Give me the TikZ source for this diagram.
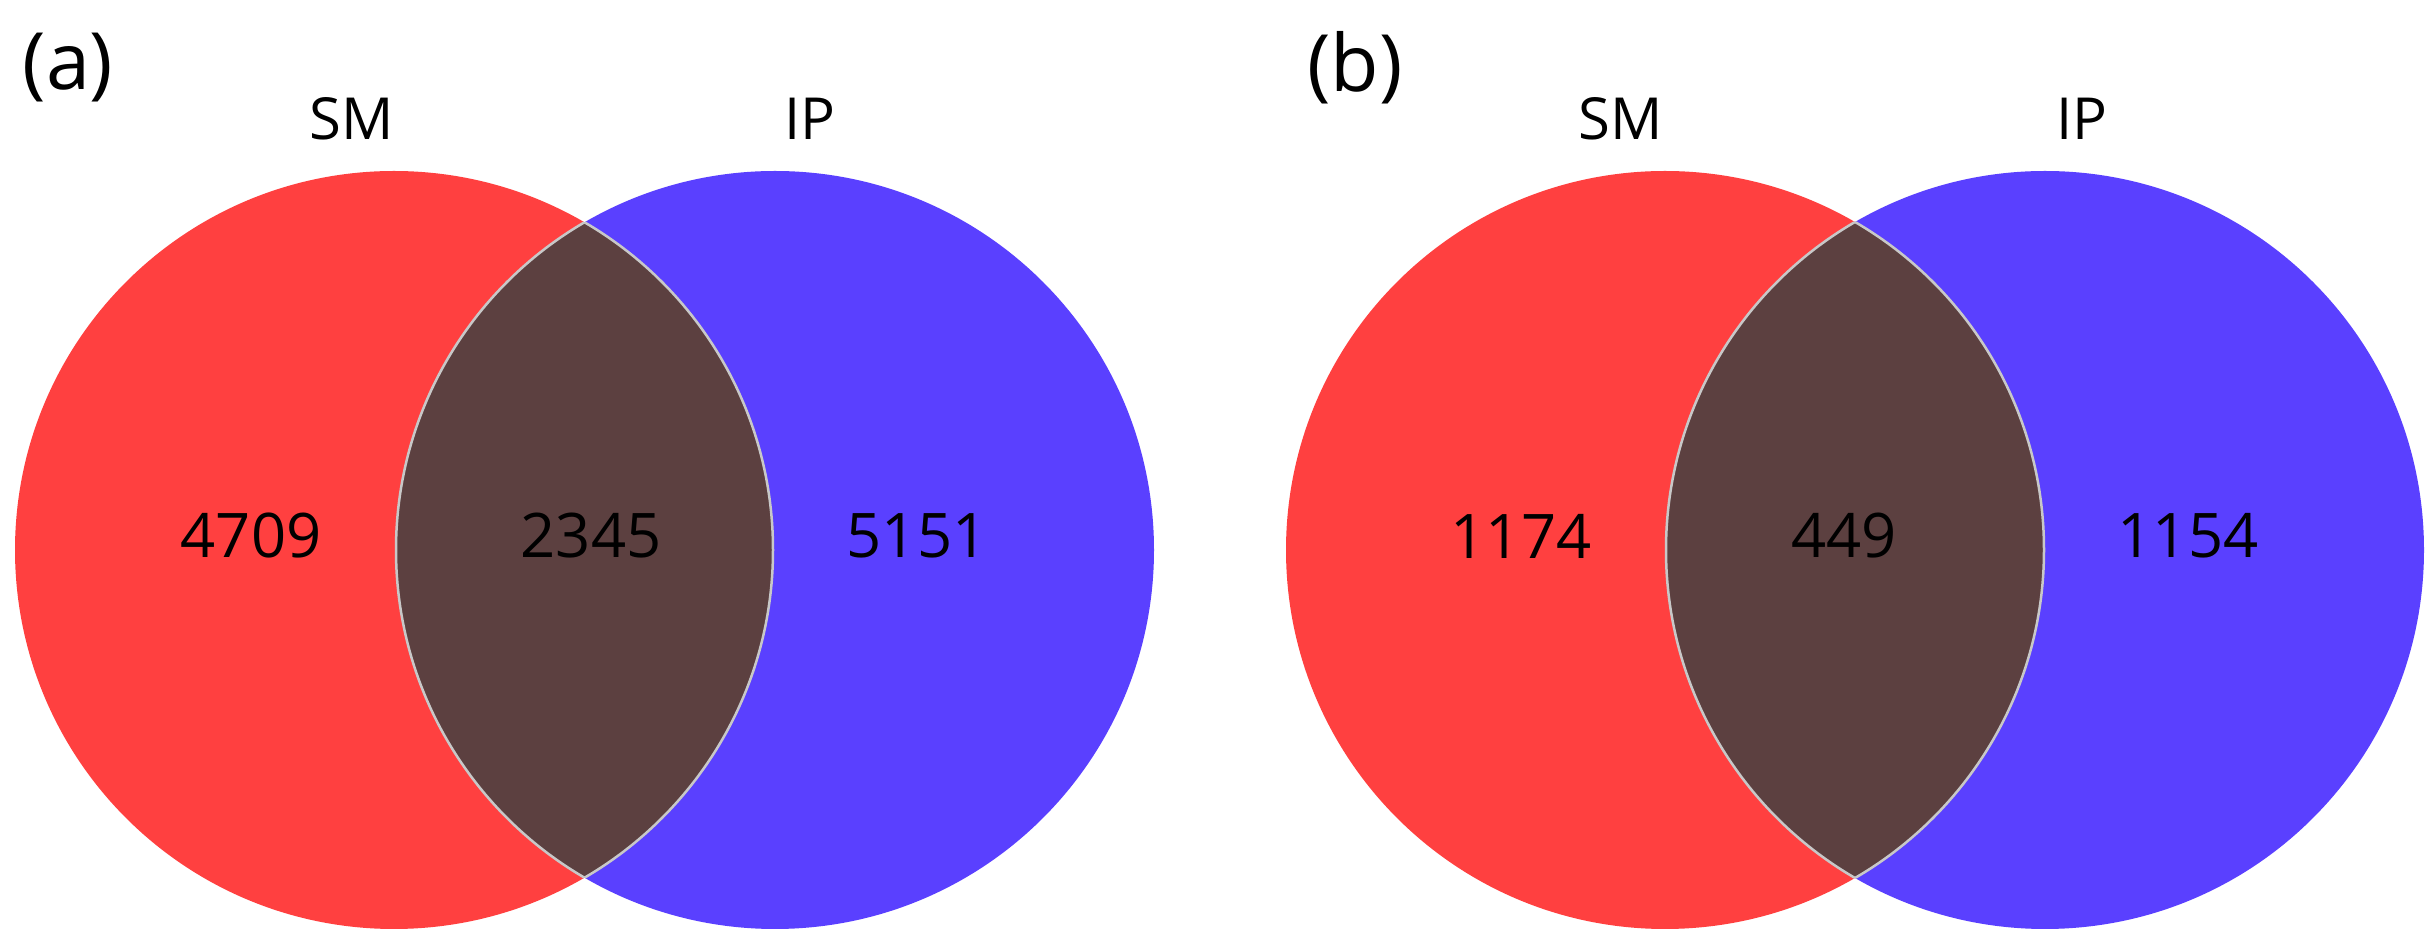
\documentclass[tikz,border=0pt]{standalone}
\usepackage{fontspec}
\setmainfont{Open Sans}
\definecolor{smred}{RGB}{255,64,64}
\definecolor{ipblue}{RGB}{90,64,255}
\definecolor{both}{RGB}{92,64,64}
\definecolor{rim}{RGB}{200,200,200}
\begin{document}
\begin{tikzpicture}[x=0.1mm, y=-0.1mm,
  count/.style={font=\fontsize{17.5}{20}\selectfont, inner sep=0pt},
  setname/.style={font=\fontsize{16.5}{19}\selectfont, inner sep=0pt},
  panel/.style={font=\fontsize{22.5}{26}\selectfont, inner sep=0pt}]
  \useasboundingbox (0,0) rectangle (2430,944);
  % (a)
  \fill[smred] (394,550) circle (379);
  \fill[ipblue] (775,550) circle (379);
  \begin{scope}
    \clip (394,550) circle (379);
    \fill[both] (775,550) circle (379);
    \draw[rim, line width=0.25mm] (775,550) circle (379);
  \end{scope}
  \begin{scope}
    \clip (775,550) circle (379);
    \draw[rim, line width=0.25mm] (394,550) circle (379);
  \end{scope}
  \node[panel] (tagA) at (68,68) {(a)};
  \node[setname] (smA) at (352,119) {SM};
  \node[setname] (ipA) at (810,119) {IP};
  \node[count] (onlySmA) at (251,536) {4709};
  \node[count] (bothA) at (591,536) {2345};
  \node[count] (onlyIpA) at (917,536) {5151};
  % (b)
  \fill[smred] (1665,550) circle (379);
  \fill[ipblue] (2045,550) circle (379);
  \begin{scope}
    \clip (1665,550) circle (379);
    \fill[both] (2045,550) circle (379);
    \draw[rim, line width=0.25mm] (2045,550) circle (379);
  \end{scope}
  \begin{scope}
    \clip (2045,550) circle (379);
    \draw[rim, line width=0.25mm] (1665,550) circle (379);
  \end{scope}
  \node[panel] (tagB) at (1355,68) {(b)};
  \node[setname] (smB) at (1621,119) {SM};
  \node[setname] (ipB) at (2082,119) {IP};
  \node[count] (onlySmB) at (1521,536) {1174};
  \node[count] (bothB) at (1844,536) {449};
  \node[count] (onlyIpB) at (2188,536) {1154};
\end{tikzpicture}
\end{document}
